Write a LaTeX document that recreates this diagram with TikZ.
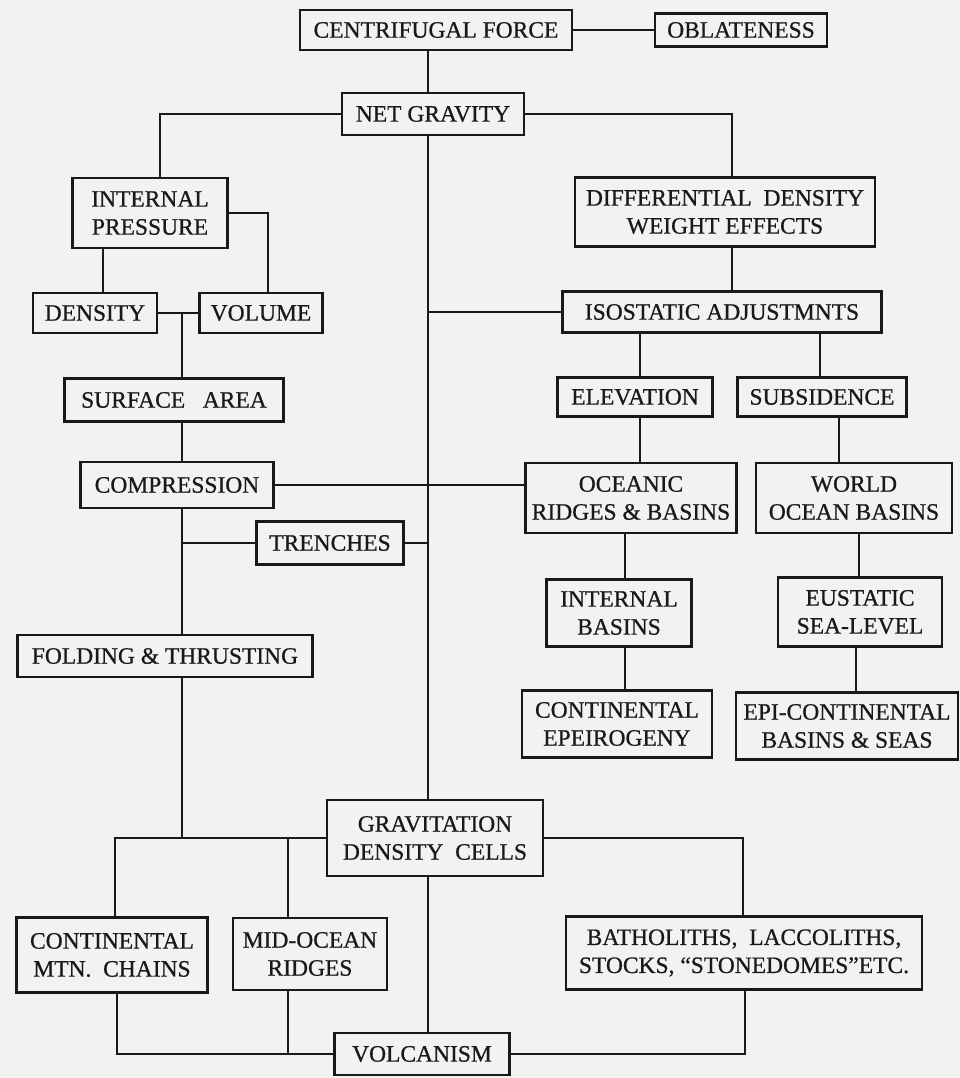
\documentclass[tikz,border=0pt]{standalone}
\usepackage{fontspec}
\setmainfont{Liberation Serif}
\newfontfamily\chartfont{Liberation Serif}[FakeBold=0.7,Ligatures=TeX]
\definecolor{paper}{RGB}{242,242,240}
\definecolor{ink}{RGB}{25,25,25}

\begin{document}
\begin{tikzpicture}[x=1pt,y=-1pt,line width=2pt,draw=ink]
            \fill[paper] (0,0) rectangle (960,1078);
            \useasboundingbox (0,0) rectangle (960,1078);
            % x positions of the vertical connectors
            \coordinate (tx) at (428,0);
            \coordinate (xa) at (160,0);
            \coordinate (xb) at (732,0);
            \coordinate (xc) at (268,0);
            \coordinate (xd) at (103,0);
            \coordinate (xe) at (182,0);
            \coordinate (xf) at (115,0);
            \coordinate (xg) at (288,0);
            \coordinate (xh) at (743,0);
            \coordinate (xi) at (117,0);
            \coordinate (xj) at (745,0);
            \coordinate (xk) at (640,0);
            \coordinate (xl) at (820,0);
            \coordinate (xm) at (839,0);
            \coordinate (xn) at (625,0);
            \coordinate (xo) at (859,0);
            \coordinate (xp) at (856,0);
            \begin{scope}[every node/.style={rectangle,draw=ink,line width=2.4pt,inner sep=0pt,align=center,text=ink,font=\chartfont\fontsize{23.5}{28}\selectfont}]
            \node[minimum width=272pt,minimum height=40pt] (cf) at (436,30) {CENTRIFUGAL FORCE};
            \node[minimum width=172pt,minimum height=33pt] (obl) at (741,30) {OBLATENESS};
            \node[minimum width=182pt,minimum height=42pt] (netg) at (433,114) {NET GRAVITY};
            \node[minimum width=155pt,minimum height=70pt] (intp) at (150,213) {INTERNAL\\PRESSURE};
            \node[minimum width=300pt,minimum height=69pt] (diff) at (725,212) {DIFFERENTIAL\ \ DENSITY\\WEIGHT EFFECTS};
            \node[minimum width=124pt,minimum height=40pt] (dens) at (95,313) {DENSITY};
            \node[minimum width=123pt,minimum height=40pt] (vol) at (261,313) {VOLUME};
            \node[minimum width=319pt,minimum height=41pt] (iso) at (722,312) {ISOSTATIC ADJUSTMNTS};
            \node[minimum width=219pt,minimum height=43pt] (surf) at (174,400) {SURFACE\ \ \ AREA};
            \node[minimum width=155pt,minimum height=39pt] (elev) at (635,397) {ELEVATION};
            \node[minimum width=169pt,minimum height=39pt] (subs) at (822,397) {SUBSIDENCE};
            \node[minimum width=193pt,minimum height=46pt] (comp) at (177,485) {COMPRESSION};
            \node[minimum width=211pt,minimum height=70pt] (ocea) at (631,498) {OCEANIC\\RIDGES \& BASINS};
            \node[minimum width=196pt,minimum height=70pt] (world) at (854,498) {WORLD\\OCEAN BASINS};
            \node[minimum width=147pt,minimum height=43pt] (tren) at (330,543) {TRENCHES};
            \node[minimum width=145pt,minimum height=67pt] (ibas) at (619,613) {INTERNAL\\BASINS};
            \node[minimum width=164pt,minimum height=69pt] (eust) at (860,612) {EUSTATIC\\SEA-LEVEL};
            \node[minimum width=295pt,minimum height=42pt] (fold) at (165,656) {FOLDING \& THRUSTING};
            \node[minimum width=190pt,minimum height=67pt] (cepe) at (617,724) {CONTINENTAL\\EPEIROGENY};
            \node[minimum width=222pt,minimum height=67pt] (epi) at (847,726) {EPI-CONTINENTAL\\BASINS \& SEAS};
            \node[minimum width=216pt,minimum height=76pt] (grav) at (435,838) {GRAVITATION\\DENSITY\ \ CELLS};
            \node[minimum width=191pt,minimum height=75pt] (cmtn) at (112,955) {CONTINENTAL\\MTN.\ \ CHAINS};
            \node[minimum width=154pt,minimum height=72pt] (mido) at (310,954) {MID-OCEAN\\RIDGES};
            \node[minimum width=356pt,minimum height=73pt] (bath) at (744,953) {BATHOLITHS,\ \ LACCOLITHS,\\STOCKS, “STONEDOMES”ETC.};
            \node[minimum width=175pt,minimum height=42pt] (volc) at (422,1054) {VOLCANISM};
            \end{scope}
            % connectors
            \draw[line width=2.6pt] (cf.east) -- (obl.west);
            \draw (cf.south -| tx) -- (netg.north -| tx);
            \draw (netg.west) -| (intp.north -| xa);
            \draw (netg.east) -| (diff.north -| xb);
            \draw (netg.south -| tx) -- (grav.north -| tx);
            \draw (intp.east) -| (vol.north -| xc);
            \draw (intp.south -| xd) -- (dens.north -| xd);
            \draw (dens.east) -- (vol.west);
            \draw (dens.east -| xe) -- (surf.north -| xe);
            \draw (surf.south -| xe) -- (comp.north -| xe);
            \draw (comp.east) -- (comp.east -| ocea.west);
            \draw (comp.south -| xe) -- (fold.north -| xe);
            \draw (tren.west) -- (tren.west -| xe);
            \draw (tren.east) -- (tren.east -| tx);
            \draw (fold.south -| xe) -- (grav.west -| xe);
            \draw (grav.west) -| (cmtn.north -| xf);
            \draw (grav.west -| xg) -- (mido.north -| xg);
            \draw (grav.east) -| (bath.north -| xh);
            \draw (grav.south -| tx) -- (volc.north -| tx);
            \draw (cmtn.south -| xi) |- (volc.west);
            \draw (mido.south -| xg) -- (volc.west -| xg);
            \draw (volc.east) -| (bath.south -| xj);
            \draw (diff.south -| xb) -- (iso.north -| xb);
            \draw (iso.west) -- (iso.west -| tx);
            \draw (iso.south -| xk) -- (elev.north -| xk);
            \draw (iso.south -| xl) -- (subs.north -| xl);
            \draw (elev.south -| xk) -- (ocea.north -| xk);
            \draw (subs.south -| xm) -- (world.north -| xm);
            \draw (ocea.south -| xn) -- (ibas.north -| xn);
            \draw (ibas.south -| xn) -- (cepe.north -| xn);
            \draw (world.south -| xo) -- (eust.north -| xo);
            \draw (eust.south -| xp) -- (epi.north -| xp);
\end{tikzpicture}
\end{document}
